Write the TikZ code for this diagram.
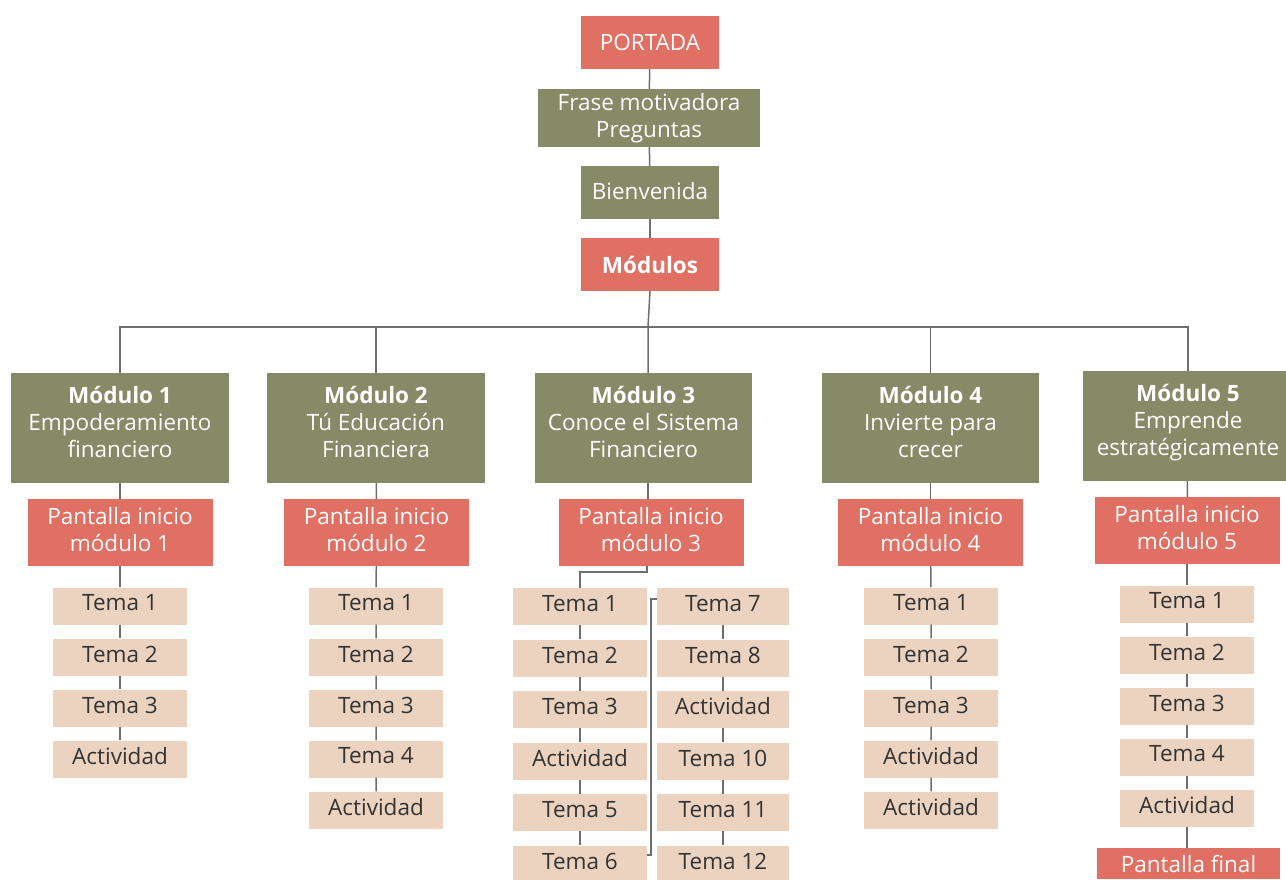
\documentclass[tikz,border=0pt]{standalone}
\usepackage{fontspec}
\setmainfont{Open Sans}
\definecolor{cred}{HTML}{E07064}
\definecolor{colive}{HTML}{878A66}
\definecolor{ctan}{HTML}{EBD3C0}
\definecolor{cline}{HTML}{6E6E6E}
\definecolor{ctext}{HTML}{333333}
\begin{document}
\begin{tikzpicture}[x=1pt,y=-1pt,
  base/.style={inner sep=0pt},
  wlbl/.style 2 args={label={[align=center, inner sep=0pt, font=\fontsize{22.5}{27}\selectfont, text=white, yshift=#1]center:#2}},
  dlbl/.style={label={[align=center, inner sep=0pt, font=\fontsize{22.5}{27}\selectfont, text=ctext, yshift=3pt]center:#1}},
  redbox/.style={base, fill=cred},
  olivebox/.style={base, fill=colive},
  modbox/.style={olivebox, minimum width=218, minimum height=110},
  pantbox/.style={redbox, minimum width=185, minimum height=67},
  temabox/.style={base, fill=ctan, minimum width=134, minimum height=37},
  conn/.style={draw=cline, line width=1.5pt}]
\useasboundingbox (0,0) rectangle (1286,879);
% top chain
\node[redbox, minimum width=138, minimum height=53, wlbl={0pt}{PORTADA}] (portada) at (650,42.5) {};
\node[olivebox, minimum width=222, minimum height=58, wlbl={0pt}{Frase motivadora\\Preguntas}] (frase) at (649,118) {};
\node[olivebox, minimum width=138, minimum height=53, wlbl={1pt}{Bienvenida}] (bienv) at (650,192.5) {};
\node[redbox, minimum width=138, minimum height=53, wlbl={0pt}{\bfseries Módulos}] (mods) at (650,264.5) {};
% modules
\node[modbox, wlbl={6.5pt}{\textbf{Módulo 1}\\Empoderamiento\\financiero}] (m1) at (120,428) {};
\node[modbox, wlbl={6.5pt}{\textbf{Módulo 2}\\Tú Educación\\Financiera}] (m2) at (376,428) {};
\node[modbox, minimum width=217, wlbl={6.5pt}{\textbf{Módulo 3}\\Conoce el Sistema\\Financiero}] (m3) at (643.5,428) {};
\node[modbox, minimum width=217, wlbl={6.5pt}{\textbf{Módulo 4}\\Invierte para\\crecer}] (m4) at (930.5,428) {};
\node[modbox, minimum width=210, wlbl={3.5pt}{\textbf{Módulo 5}\\Emprende\\estratégicamente}] (m5) at (1188,426) {};
% pantallas inicio
\node[pantbox, wlbl={3pt}{Pantalla inicio\\módulo 1}] (p1) at (120,532.5) {};
\node[pantbox, wlbl={3pt}{Pantalla inicio\\módulo 2}] (p2) at (376.5,532.5) {};
\node[pantbox, wlbl={3pt}{Pantalla inicio\\módulo 3}] (p3) at (651,532.5) {};
\node[pantbox, wlbl={3pt}{Pantalla inicio\\módulo 4}] (p4) at (930.5,532.5) {};
\node[pantbox, wlbl={3pt}{Pantalla inicio\\módulo 5}] (p5) at (1187,530.5) {};
% module 1
\node[temabox, dlbl={Tema 1}] (a1) at (120,606) {};
\node[temabox, dlbl={Tema 2}] (a2) at (120,657) {};
\node[temabox, dlbl={Tema 3}] (a3) at (120,708) {};
\node[temabox, dlbl={Actividad}] (a4) at (120,759) {};
% module 2
\node[temabox, dlbl={Tema 1}] (b1) at (376,606) {};
\node[temabox, dlbl={Tema 2}] (b2) at (376,657) {};
\node[temabox, dlbl={Tema 3}] (b3) at (376,708) {};
\node[temabox, dlbl={Tema 4}] (b4) at (376,759) {};
\node[temabox, dlbl={Actividad}] (b5) at (376,810) {};
% module 3 left
\node[temabox, dlbl={Tema 1}] (c1) at (580,606.5) {};
\node[temabox, dlbl={Tema 2}] (c2) at (580,658) {};
\node[temabox, dlbl={Tema 3}] (c3) at (580,709.5) {};
\node[temabox, dlbl={Actividad}] (c4) at (580,761) {};
\node[temabox, dlbl={Tema 5}] (c5) at (580,812.5) {};
\node[temabox, dlbl={Tema 6}] (c6) at (580,864) {};
% module 3 right
\node[temabox, minimum width=132, dlbl={Tema 7}] (d1) at (723,606.5) {};
\node[temabox, minimum width=132, dlbl={Tema 8}] (d2) at (723,658) {};
\node[temabox, minimum width=132, dlbl={Actividad}] (d3) at (723,709.5) {};
\node[temabox, minimum width=132, dlbl={Tema 10}] (d4) at (723,761) {};
\node[temabox, minimum width=132, dlbl={Tema 11}] (d5) at (723,812.5) {};
\node[temabox, minimum width=132, dlbl={Tema 12}] (d6) at (723,864) {};
% module 4
\node[temabox, dlbl={Tema 1}] (e1) at (931,606) {};
\node[temabox, dlbl={Tema 2}] (e2) at (931,657) {};
\node[temabox, dlbl={Tema 3}] (e3) at (931,708) {};
\node[temabox, dlbl={Actividad}] (e4) at (931,759) {};
\node[temabox, dlbl={Actividad}] (e5) at (931,810) {};
% module 5
\node[temabox, dlbl={Tema 1}] (f1) at (1187,604) {};
\node[temabox, dlbl={Tema 2}] (f2) at (1187,655) {};
\node[temabox, dlbl={Tema 3}] (f3) at (1187,706) {};
\node[temabox, dlbl={Tema 4}] (f4) at (1187,757) {};
\node[temabox, dlbl={Actividad}] (f5) at (1187,808) {};
\node[redbox, minimum width=183, minimum height=31, wlbl={0pt}{Pantalla final}] (pf) at (1188.5,863.5) {};
% connectors top
\draw[conn] (portada) -- (frase);
\draw[conn] (frase) -- (bienv);
\draw[conn] (bienv) -- (mods);
\coordinate (bar3) at (648,327);
\draw[conn] (mods.south) -- (bar3) -- ([xshift=4.5pt]m3.north);
\draw[conn] (m1.north) -- (m1.north |- bar3) -- (m5.north |- bar3) -- (m5.north);
\draw[conn] (m2.north) -- (m2.north |- bar3);
\draw[conn] (m4.north) -- (m4.north |- bar3);
% module to pantalla
\draw[conn] (m1) -- (p1);
\draw[conn] (m2) -- (p2);
\draw[conn] ([xshift=4.5pt]m3.south) -- ([xshift=4.5pt]m3.south |- p3.north);
\draw[conn] (m4) -- (p4);
\draw[conn] (m5) -- (p5);
% chains
\draw[conn] (p1) -- (a1) -- (a2) -- (a3) -- (a4);
\draw[conn] (p2) -- (b1) -- (b2) -- (b3) -- (b4) -- (b5);
\draw[conn] ([xshift=-4pt]p3.south) -- ++(0,6) -| (c1.north);
\draw[conn] (c1) -- (c2) -- (c3) -- (c4) -- (c5) -- (c6);
\coordinate (brk) at (651,599);
\draw[conn] ([yshift=9pt]c6.east) -| (brk) -- (brk -| d1.west);
\draw[conn] (d1) -- (d2) -- (d3) -- (d4) -- (d5) -- (d6);
\draw[conn] (p4) -- (e1) -- (e2) -- (e3) -- (e4) -- (e5);
\draw[conn] (p5) -- (f1) -- (f2) -- (f3) -- (f4) -- (f5) -- (f5 |- pf.north);
\end{tikzpicture}
\end{document}
